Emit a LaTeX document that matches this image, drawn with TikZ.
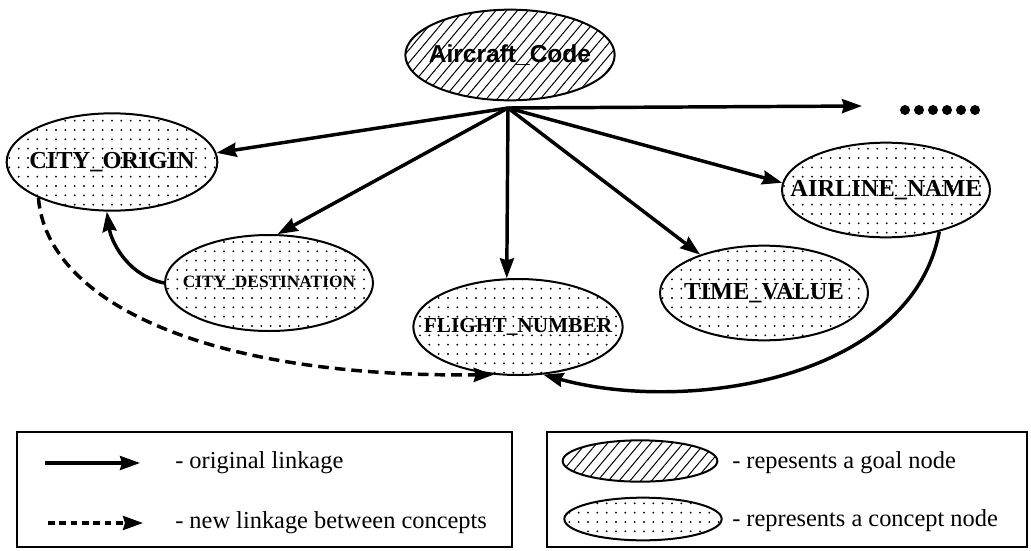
\documentclass[tikz,border=0pt]{standalone}
\usepackage{fontspec}
\setmainfont{Liberation Serif}
\newfontfamily\headfont{Liberation Sans}
\usetikzlibrary{shapes.geometric,arrows.meta,patterns.meta}

\tikzset{
  % the label is set in a zero-width box so that the ellipse keeps its given size
  fixedsize/.style={execute at begin node={\hbox to 0pt\bgroup\hss},
                    execute at end node={\hss\egroup}},
  goalnode/.style={ellipse, draw, line width=1.5pt, inner sep=0pt, fixedsize,
    pattern={Lines[angle=50, distance=6.2pt, line width=0.75pt]},
    minimum width=157pt, minimum height=68pt},
  conceptnode/.style={ellipse, draw, line width=1.5pt, inner sep=0pt, fixedsize,
    pattern={Dots[distance=7pt, radius=0.8pt]},
    minimum width=156pt, minimum height=72pt,
    font=\bfseries\fontsize{18.3}{20}\selectfont},
  tip/.style={-{Stealth[length=15pt, width=10.5pt, inset=1.5pt]}},
  link/.style={tip, line width=2.6pt},
  newlink/.style={tip, line width=2.6pt, dash pattern=on 8pt off 4.5pt},
  legendbox/.style={draw, line width=1.5pt},
  legendtext/.style={anchor=west, inner sep=0pt, font=\fontsize{18.3}{20}\selectfont},
}

\begin{document}
\begin{tikzpicture}[x=0.75pt, y=-0.75pt]
  \useasboundingbox (0,0) rectangle (1031,550);

  % goal node and the point where its links leave
  \node[goalnode, font=\headfont\bfseries\fontsize{18.4}{20}\selectfont] (goal) at (510,55) {Aircraft\_Code};
  \coordinate (hub) at (508,108);

  % concept nodes
  \node[conceptnode, minimum width=158pt, minimum height=73pt] (origin) at (112,162) {CITY\_ORIGIN};
  \node[conceptnode, font=\bfseries\fontsize{13}{15}\selectfont] (dest) at (269,283) {CITY\_DESTINATION};
  \node[conceptnode, font=\bfseries\fontsize{16}{18}\selectfont, minimum width=157pt] (flight) at (518,327) {FLIGHT\_NUMBER};
  \node[conceptnode, minimum height=71pt] (time) at (764,293) {TIME\_VALUE};
  \node[conceptnode, minimum height=71pt] (airline) at (886,190) {AIRLINE\_NAME};

  % the further, unnamed concepts
  \coordinate (more) at (862,106);
  \foreach \i in {0,...,5} \fill (905+14*\i,110) circle (5);

  % original linkage
  \draw[link] (hub) -- (origin.5);
  \draw[link] (hub) -- (dest.80);
  \draw[link] (hub) -- (flight.103);
  \draw[link] (hub) -- (time.149);
  \draw[link] (hub) -- (airline.176);
  \draw[link] (hub) -- (more);
  \draw[link] (dest.west) .. controls +(-38,-8) and +(4,28) .. (origin.264);
  \draw[link] (airline.-38) .. controls +(-28,150) and +(140,39) .. (flight.-62);

  % new linkage
  \draw[newlink] (origin.206) .. controls +(8,102) and +(-293,3) .. (flight.243);

  % legend: connectors
  \draw[legendbox] (17,432) rectangle (512,547);
  \coordinate (l1a) at (45,463);  \coordinate (l1b) at (140,463);
  \coordinate (l2a) at (48,523);  \coordinate (l2b) at (143,523);
  \draw[tip, line width=2.4pt] (l1a) -- (l1b);
  \draw[tip, line width=2.4pt, dash pattern=on 5pt off 3.5pt] (l2a) -- (l2b);
  \node[legendtext] (t1) at (175,463) {- original linkage};
  \node[legendtext] (t2) at (175,523) {- new linkage between concepts};

  % legend: node kinds
  \draw[legendbox] (547,432) rectangle (1027,547);
  \node[goalnode, minimum width=116pt, minimum height=31pt] (sgoal) at (640,461) {};
  \node[conceptnode, minimum width=118pt, minimum height=32pt] (sconcept) at (643,519) {};
  \node[legendtext] (t3) at (732,463) {- repesents a goal node};
  \node[legendtext] (t4) at (732,521) {- represents a concept node};
\end{tikzpicture}
\end{document}
